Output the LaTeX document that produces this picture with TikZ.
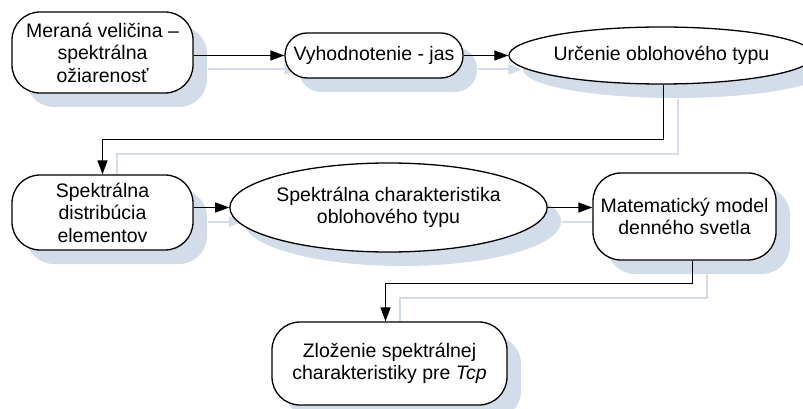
\documentclass[tikz,border=0pt]{standalone}
\usepackage{fontspec}
\setmainfont{Liberation Sans}
\usetikzlibrary{shapes.geometric,arrows.meta,shadows,backgrounds}
\definecolor{shadowc}{RGB}{211,220,233}
\begin{document}
\begin{tikzpicture}[x=1pt,y=-1pt,
  base/.style={draw, line width=1.3pt, fill=white, align=center, inner sep=0pt,
    font=\fontsize{19.5}{22.5}\selectfont,
    drop shadow={fill=shadowc, opacity=1, shadow xshift=14pt, shadow yshift=-14pt}},
  box/.style={base, rounded corners=28pt},
  ell/.style={base, ellipse},
  conn/.style={line width=1.3pt, -{Triangle[length=14pt,width=10pt]}},
  sconn/.style={line width=2pt, draw=shadowc, -{Triangle[length=14pt,width=10pt]}}]
\useasboundingbox (0,0) rectangle (803,409);
\node[box, minimum width=181pt, minimum height=81pt] (n1) at (102.5,52.5) {Meraná veličina –\\spektrálna\\ožiarenosť};
\node[box, rounded corners=22pt, minimum width=178pt, minimum height=45pt] (n2) at (374,55.5) {Vyhodnotenie - jas};
\node[ell, minimum width=283pt, minimum height=57pt] (e1) at (661.5,55.5) {Určenie oblohového typu};
\node[box, minimum width=181pt, minimum height=75pt] (n4) at (102.5,212.5) {Spektrálna\\distribúcia\\elementov};
\node[ell, minimum width=283pt, minimum height=89pt] (e2) at (388.5,207.5) {Spektrálna charakteristika\\oblohového typu};
\node[box, minimum width=183pt, minimum height=87pt] (n6) at (684.5,216.5) {Matematický model\\denného svetla};
\node[box, minimum width=235pt, minimum height=83pt] (n7) at (389.5,363.5) {Zloženie spektrálnej\\charakteristiky pre \textit{Tcp}};
\begin{pgfonlayer}{background}
\draw[sconn] ([shift={(14,14)}]n1.east |- n2.west) -- ([shift={(14,14)}]n2.west);
\draw[sconn] ([shift={(14,14)}]n2.east) -- ([shift={(14,14)}]e1.west);
\draw[sconn] ([shift={(16,14)}]e1.south) -- ++(0,55) -| ([shift={(14,14)}]n4.north);
\draw[sconn] ([shift={(14,14)}]n4.east |- e2.west) -- ([shift={(14,14)}]e2.west);
\draw[sconn] ([shift={(14,14)}]e2.east) -- ([shift={(14,14)}]e2.east -| n6.west);
\draw[sconn] ([shift={(22,14)}]n6.south) -- ++(0,23) -| ([shift={(10,14)}]n7.north);
\end{pgfonlayer}
\draw[conn] (n1.east |- n2.west) -- (n2.west);
\draw[conn] (n2.east) -- (e1.west);
\draw[conn] ([xshift=2pt]e1.south) -- ++(0,55) -| (n4.north);
\draw[conn] (n4.east |- e2.west) -- (e2.west);
\draw[conn] (e2.east) -- (e2.east -| n6.west);
\draw[conn] ([xshift=8pt]n6.south) -- ++(0,23) -| ([xshift=-4pt]n7.north);
\end{tikzpicture}
\end{document}
